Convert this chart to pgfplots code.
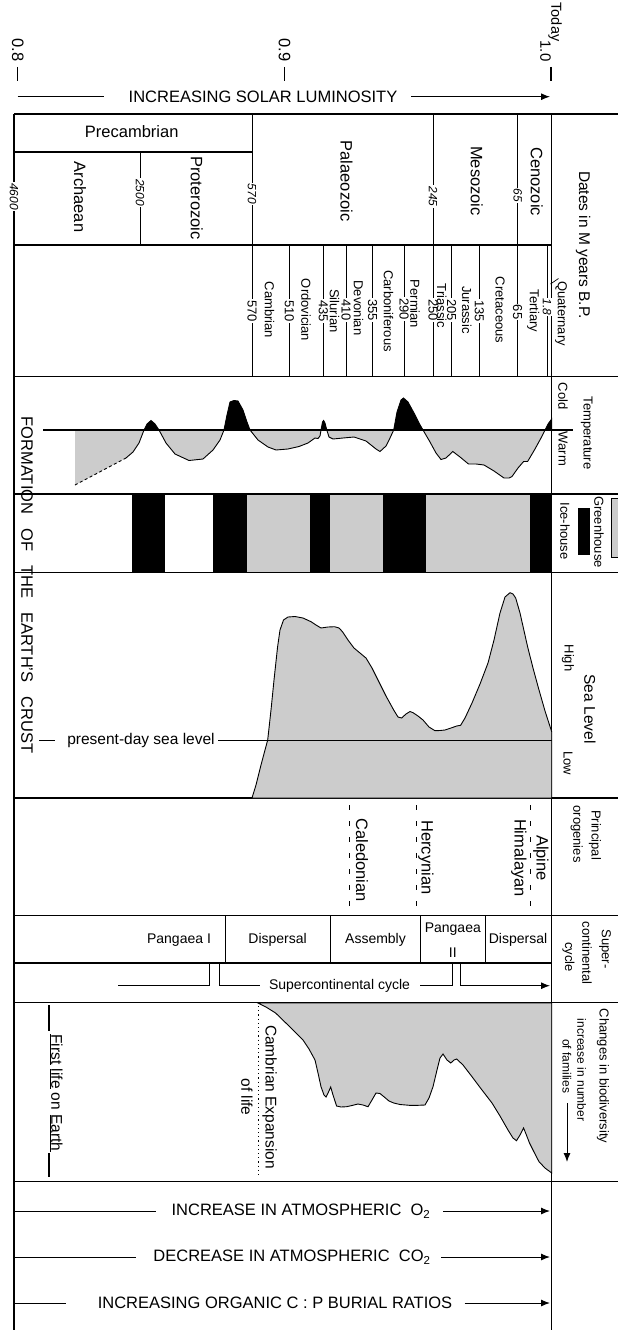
\documentclass[border=0pt]{standalone}
\usepackage{fontspec}
\setmainfont{Liberation Sans}
\usepackage{pgfplots}
\pgfplotsset{compat=1.18}
\usetikzlibrary{arrows.meta}
\newcommand\fXL{\fontsize{16.5}{19}\selectfont}
\newcommand\fL{\fontsize{15.5}{18}\selectfont}
\newcommand\fM{\fontsize{14}{16}\selectfont}
\newcommand\fS{\fontsize{13}{15}\selectfont}
\newcommand\fXS{\fontsize{12}{14}\selectfont}
\tikzset{
  lab/.style={inner sep=0pt,outer sep=0pt},
  rl/.style={inner sep=0pt,outer sep=0pt,rotate=-90},
  num/.style={inner sep=1.2pt,outer sep=0pt,rotate=-90,fill=white},
  fr/.style={line width=1.2pt},
  arr/.style={line width=1pt,-{Latex[length=9pt,width=7pt]}},
}
\begin{document}
\begin{tikzpicture}
\begin{axis}[width=618pt,height=1330pt,scale only axis,
  xmin=0,xmax=618,ymin=0,ymax=1330,y dir=reverse,
  axis lines=none,ticks=none,clip=false]

% ---------- Solar luminosity ----------
\node[rl] at (17.7,50) {\fXL 0.8};
\node[rl] at (284.5,50) {\fXL 0.9};
\node[rl] at (545.5,51) {\fontsize{15}{17}\selectfont 1.0};
\node[rl] at (555,22) {\fontsize{14.5}{17}\selectfont Today};
\draw[line width=1.2pt] (17.7,67) -- (17.7,81);
\draw[line width=1.2pt] (284.5,67) -- (284.5,81);
\draw[line width=1.2pt] (551,67) -- (551,81);
\draw[line width=1pt] (17.7,96.7) -- (104,96.7);
\node[lab] at (263,96.7) {\fXL INCREASING SOLAR LUMINOSITY};
\draw[arr] (411,96.7) -- (550,96.7);

% ---------- Frame ----------
\draw[fr] (14,114) -- (618,114);
\draw[fr] (14,152) -- (252,152);
\draw[fr] (14,245) -- (551.7,245);
\draw[fr] (14,376.5) -- (618,376.5);
\draw[fr] (14,494) -- (618,494);
\draw[fr] (14,572.7) -- (618,572.7);
\draw[fr] (14,798) -- (618,798);
\draw[fr] (14,915.5) -- (618,915.5);
\draw[fr] (14,963) -- (551.7,963);
\draw[fr] (14,1002.5) -- (618,1002.5);
\draw[fr] (14,1181.7) -- (618,1181.7);
\draw[fr] (14,114) -- (14,1330);
\draw[fr] (551.7,114) -- (551.7,1330);

% ---------- Eras ----------
\draw[line width=1pt] (140,152) -- (140,245);
\draw[line width=1pt] (252,114) -- (252,376.5);
\draw[line width=1pt] (433,114) -- (433,376.5);
\draw[line width=1pt] (517.7,114) -- (517.7,376.5);
\node[lab] at (131.7,132) {\fXL Precambrian};
\node[rl] at (80,197) {\fXL Archaean};
\node[rl] at (196.7,198) {\fXL Proterozoic};
\node[rl] at (346.5,181) {\fXL Palaeozoic};
\node[rl] at (476.7,181) {\fXL Mesozoic};
\node[rl] at (536.7,181.7) {\fXL Cenozoic};
\node[num] at (14,196.5) {\fXS\itshape 4600};
\node[num] at (140,192.5) {\fXS\itshape 2500};
\node[num] at (252,194) {\fXS\itshape 570};
\node[num] at (433,196.5) {\fXS\itshape 245};
\node[num] at (517.7,195.5) {\fXS\itshape 65};
\node[rl] at (583,245) {\fL Dates in M years B.P.};

% ---------- Periods ----------
\foreach \xx in {289.3,323.3,346,372.7,404,451.7,479.3,547}
  {\edef\tmp{\noexpand\draw[line width=1pt] (\xx,245) -- (\xx,376.5);}\tmp}
\node[num] at (252,311) {\fS 570};
\node[num] at (289.3,311) {\fS 510};
\node[num] at (323.3,311) {\fS 435};
\node[num] at (346,310) {\fS 410};
\node[num] at (372.7,310) {\fS 355};
\node[num] at (404,309) {\fS 290};
\node[num] at (433,310) {\fS 250};
\node[num] at (451.7,310) {\fS 205};
\node[num] at (479.3,311) {\fS 135};
\node[num] at (517.7,312) {\fS 65};
\node[num,inner sep=0.5pt] at (547,307) {\fXS\itshape 1.8};
\node[rl] at (269.5,310) {\fS Cambrian};
\node[rl] at (306,310) {\fS Ordovician};
\node[rl] at (334.5,311) {\fS Silurian};
\node[rl] at (358.5,308) {\fS Devonian};
\node[rl] at (388.5,311) {\fS Carboniferous};
\node[rl] at (415,304) {\fS Permian};
\node[rl] at (441.7,306) {\fS Triassic};
\node[rl] at (466.7,310) {\fS Jurassic};
\node[rl] at (500,310) {\fS Cretaceous};
\node[rl] at (533.3,311) {\fS Tertiary};
\node[rl,anchor=west] at (561,281) {\fS Quaternary};
\draw[line width=0.7pt] (550.5,284) -- (558.5,278.5);

% ---------- Temperature ----------
\addplot[fill=black!20,draw=none] coordinates {(75,430) (144,430) (139,443) (133,452) (126,458) (75,485)} -- cycle;
\addplot[draw=black,line width=0.9pt,dash pattern=on 3pt off 2.5pt] coordinates {(75,485) (126,458)};
\addplot[fill=black!20,draw=black,line width=0.9pt] coordinates {(159,430) (166,443) (175,454) (189,460.5) (203,459) (213,450) (220,440) (224,430)};
\addplot[fill=black!20,draw=black,line width=0.9pt] coordinates {(250,430) (258,440) (268,447) (276,450) (288,449) (299,446.5) (308,443) (315,438) (318,438.5) (320,436) (321,430)};
\addplot[fill=black!20,draw=black,line width=0.9pt] coordinates {(326.8,430) (329,437) (333,439) (343,438) (354,437) (366,441) (376,449) (380,451.5) (386,446) (390,438) (393.7,430)};
\addplot[fill=black!20,draw=black,line width=0.9pt] coordinates {(423,430) (430,442) (436,453) (441,459.5) (446,458) (452.8,451.5) (460,457) (468.5,464) (476,464) (484,465) (494,471) (504,478) (509,478) (512,476.5) (518,468) (523.6,461.5) (527.6,461.5) (535,449) (541,438) (545,430)};
\addplot[draw=black,line width=0.9pt] coordinates {(126,458) (133,452) (139,443) (144,430)};
\addplot[fill=black,draw=black,line width=0.9pt] coordinates {(144,430) (147,424) (151,420.5) (155,424) (159,430)} -- cycle;
\addplot[fill=black,draw=black,line width=0.9pt] coordinates {(224,430) (227,415) (230,402) (234,400.5) (238,401) (243,410) (247,422) (250,430)} -- cycle;
\addplot[fill=black,draw=black,line width=0.9pt] coordinates {(321,430) (322.5,422) (323.6,420.5) (325,423) (326.8,430)} -- cycle;
\addplot[fill=black,draw=black,line width=0.9pt] coordinates {(393.7,430) (397,412) (401,400) (403.5,398) (408,402) (414,413) (419,423) (423,430)} -- cycle;
\addplot[fill=black,draw=black,line width=0.9pt] coordinates {(545,430) (548,424) (551.7,419) (551.7,430)} -- cycle;
\draw[line width=1.3pt] (43,430) -- (573,430);
\node[rl] at (586.7,433) {\fS Temperature};
\node[rl] at (563,396) {\fS Cold};
\node[rl] at (563,449) {\fS Warm};

% ---------- Ice-house / Greenhouse ----------
\addplot[fill=black,draw=none] coordinates {(132,494) (165,494) (165,572.7) (132,572.7)} -- cycle;
\addplot[fill=black,draw=none] coordinates {(213,494) (247,494) (247,572.7) (213,572.7)} -- cycle;
\addplot[fill=black!20,draw=none] coordinates {(247,494) (310,494) (310,572.7) (247,572.7)} -- cycle;
\addplot[fill=black,draw=none] coordinates {(310,494) (330,494) (330,572.7) (310,572.7)} -- cycle;
\addplot[fill=black!20,draw=none] coordinates {(330,494) (383,494) (383,572.7) (330,572.7)} -- cycle;
\addplot[fill=black,draw=none] coordinates {(383,494) (426,494) (426,572.7) (383,572.7)} -- cycle;
\addplot[fill=black!20,draw=none] coordinates {(426,494) (530,494) (530,572.7) (426,572.7)} -- cycle;
\addplot[fill=black,draw=none] coordinates {(530,494) (551.7,494) (551.7,572.7) (530,572.7)} -- cycle;
\draw[fr] (14,494) -- (618,494);
\draw[fr] (14,572.7) -- (618,572.7);
\addplot[fill=black!20,draw=black,line width=0.8pt] coordinates {(611.5,498) (620,498) (620,557) (611.5,557)} -- cycle;
\addplot[fill=black,draw=none] coordinates {(578,508) (590,508) (590,555) (578,555)} -- cycle;
\node[rl] at (599,532) {\fS Greenhouse};
\node[rl] at (565,531) {\fS Ice-house};

% ---------- Sea level ----------
\addplot[fill=black!20,draw=black,line width=0.9pt] coordinates {(252,798) (256,785) (261,765) (265,750) (267.7,740) (271,710) (274,680) (277.6,646.7) (280,630) (283.5,620) (288,617) (295,616.5) (303,618) (311,621.7) (316,625) (321,628) (328,627) (334.6,626.7) (339,628) (342.5,631.7) (348,640) (354,648) (360,653) (366,658) (372,668) (378,680) (386,696) (393.7,710) (398,717) (401.6,718) (406,714) (410,711.5) (413,712.7) (418,716) (423,720) (429,727) (435,730.7) (440,730.5) (445,730) (451,728) (456.7,726) (460.6,725.3) (465,718) (472,703) (480,684) (488,663) (494,640) (500,613) (505,597) (510,592.7) (513,594) (515.7,598) (520,613) (527.6,646.7) (533,668) (539,690) (545,711) (551.7,731.7) (551.7,798)} -- cycle;
\draw[line width=1pt] (39,740.7) -- (55,740.7);
\draw[line width=1pt] (218,740.7) -- (551.7,740.7);
\node[lab] at (141,740.7) {\fL present-day sea level};
\node[rl] at (568,658) {\fS High};
\node[rl] at (590,709) {\fL Sea Level};
\node[rl] at (568,763) {\fS Low};
\node[rl] at (27,585) {\fXL FORMATION\hspace{14pt}OF\hspace{14pt}THE\hspace{14pt}EARTH'S\hspace{14pt}CRUST};

% ---------- Orogenies ----------
\draw[line width=1pt,dash pattern=on 5pt off 11pt] (349.6,805) -- (349.6,906);
\draw[line width=1pt,dash pattern=on 5pt off 11pt] (416.5,805) -- (416.5,906);
\draw[line width=1pt,dash pattern=on 5pt off 11pt] (530.7,805) -- (530.7,906);
\node[rl] at (362,860) {\fXL Caledonian};
\node[rl] at (426,857.5) {\fXL Hercynian};
\node[rl] at (541,858) {\fXL Alpine};
\node[rl] at (519,858) {\fXL Himalayan};
\node[rl] at (595,835) {\fS Principal};
\node[rl] at (576.7,834) {\fS orogenies};

% ---------- Supercontinental cycle ----------
\foreach \xx in {225,330.7,420.5,485}
  {\edef\tmp{\noexpand\draw[line width=1pt] (\xx,915.5) -- (\xx,963);}\tmp}
\node[lab] at (179,940) {\fM Pangaea I};
\node[lab] at (277.6,940) {\fM Dispersal};
\node[lab] at (375.5,940) {\fM Assembly};
\node[lab] at (452.8,929) {\fM Pangaea};
\node[lab] at (452.8,953) {\fM II};
\node[lab] at (518,940) {\fM Dispersal};
\draw[line width=1pt] (118,985.7) -- (209.4,985.7) -- (209.4,963);
\draw[line width=1pt] (219.7,963) -- (219.7,985.7) -- (260,985.7);
\node[lab] at (339.5,985.7) {\fM Supercontinental cycle};
\draw[line width=1pt] (420,985.7) -- (452,985.7) -- (452,963);
\draw[line width=1pt] (460,963) -- (460,985.7);
\draw[arr] (460,985.7) -- (550,985.7);
\node[rl] at (605,949) {\fS Super-};
\node[rl] at (587,953) {\fS continental};
\node[rl] at (568.5,957) {\fS cycle};

% ---------- Biodiversity ----------
\addplot[fill=black!20,draw=black,line width=0.9pt] coordinates {(258,1003) (266,1007) (275.6,1013) (290,1027) (303,1040) (309,1049) (315,1060) (318,1073) (321,1086.7) (324,1095) (326,1097) (328.5,1092) (330.7,1087) (333,1095) (336.6,1106) (341,1107) (346.5,1106.7) (352,1105.5) (358,1104) (363,1105) (368,1106.7) (372,1100) (376,1093) (380,1093.5) (383.9,1096.7) (389,1101) (393.7,1103) (400,1104.5) (409.4,1105.3) (418,1105.3) (425,1105) (429,1098) (433,1086.7) (437,1070) (440,1058) (443,1054) (447,1060) (450.8,1063) (454,1060) (456.7,1059) (463,1065) (472,1076.7) (482,1090) (492,1103) (500,1116) (508,1130) (513,1138) (516.5,1140.7) (520,1135) (523.6,1128) (526,1134) (529.5,1143) (534,1152) (539,1161.7) (545,1168) (551.7,1173) (551.7,1003)} -- cycle;
\draw[fr] (14,1002.5) -- (618,1002.5);
\draw[line width=1pt,dash pattern=on 1.2pt off 3pt] (258,1006) -- (258,1177);
\node[rl] at (269.7,1097) {\fL Cambrian Expansion};
\node[rl] at (247,1097) {\fL of life};
\draw[line width=1.2pt] (49,1005) -- (49,1031);
\draw[line width=1.2pt] (49,1153) -- (49,1177);
\node[rl] at (56,1093) {\fL \underline{First} \underline{life} on \underline{Earth}};
\node[rl] at (603,1076) {\fS Changes in biodiversity};
\node[rl] at (581.7,1070) {\fXS increase in number};
\node[rl] at (567,1066) {\fXS of families};
\draw[arr] (567,1103) -- (567,1162);

% ---------- Atmosphere arrows ----------
\draw[line width=1pt] (14,1211) -- (155.5,1211);
\node[lab] at (301,1211) {\fXL INCREASE IN ATMOSPHERIC\ \ O\textsubscript{2}};
\draw[arr] (443,1211) -- (550,1211);
\draw[line width=1pt] (14,1257) -- (136,1257);
\node[lab] at (292,1257) {\fXL DECREASE IN ATMOSPHERIC\ \ CO\textsubscript{2}};
\draw[arr] (441,1257) -- (550,1257);
\draw[line width=1pt] (14,1303) -- (66,1303);
\node[lab] at (275,1303) {\fXL INCREASING ORGANIC C : P BURIAL RATIOS};
\draw[arr] (464.6,1303) -- (550,1303);

\end{axis}
\pgfresetboundingbox
\path (current axis.south west) rectangle (current axis.north east);
\end{tikzpicture}
\end{document}
